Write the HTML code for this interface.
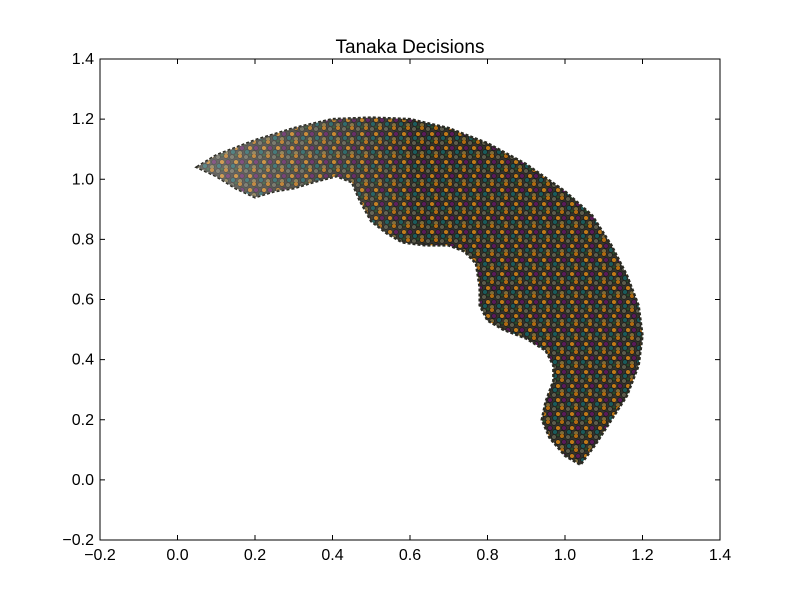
<!DOCTYPE html>
<html>
<head>
<meta charset="utf-8">
<style>
html,body{margin:0;padding:0;background:#fff;}
svg{display:block;font-family:"Liberation Sans",sans-serif;}
</style>
</head>
<body>
<svg id="chart" width="800" height="600">
  <defs>
    <pattern id="dots" width="14" height="14" patternUnits="userSpaceOnUse">
      <rect width="14" height="14" fill="#35342c"/>
      <circle cx="2" cy="2" r="2.4" fill="#b06a10" stroke="#1a1a1a" stroke-width="0.7"/>
      <circle cx="8" cy="3" r="2.4" fill="#5c5c4c" stroke="#1a1a1a" stroke-width="0.7"/>
      <circle cx="12" cy="8" r="2.4" fill="#c07a18" stroke="#1a1a1a" stroke-width="0.7"/>
      <circle cx="4" cy="8" r="2.4" fill="#5a1a5a" stroke="#1a1a1a" stroke-width="0.7"/>
      <circle cx="9" cy="12" r="2.4" fill="#1a5a5a" stroke="#1a1a1a" stroke-width="0.7"/>
      <circle cx="2" cy="13" r="2.4" fill="#7a6a3a" stroke="#1a1a1a" stroke-width="0.7"/>
      <circle cx="12" cy="1" r="2" fill="#2a4a2a" stroke="#1a1a1a" stroke-width="0.7"/>
    </pattern>
    <linearGradient id="fade" x1="0" x2="1" y1="0" y2="0">
      <stop offset="0" stop-color="#fff" stop-opacity="0.3"/>
      <stop offset="0.3" stop-color="#fff" stop-opacity="0.12"/>
      <stop offset="0.5" stop-color="#fff" stop-opacity="0"/>
    </linearGradient>
  </defs>
  <text x="410" y="53" text-anchor="middle" font-size="19">Tanaka Decisions</text>
  <g id="region"></g>
  <rect x="100" y="59" width="620" height="481" fill="none" stroke="#000" stroke-width="1"/>
  <g id="axes"></g>
</svg>
<script>
const outlineX = [0.05,0.1,0.2,0.3,0.4,0.5,0.6,0.7,0.8,0.9,1.0,1.07,1.12,1.16,1.19,1.2,1.19,1.16,1.12,1.08,1.04,
  1.0,0.96,0.94,0.95,0.97,0.97,0.95,0.9,0.84,0.8,0.78,0.78,0.77,0.74,0.7,0.64,0.58,0.54,0.5,0.47,0.45,0.41,0.35,0.3,0.25,0.2,0.15,0.1];
const outlineY = [1.04,1.08,1.13,1.17,1.2,1.205,1.2,1.17,1.12,1.05,0.96,0.88,0.78,0.68,0.58,0.48,0.38,0.28,0.2,0.12,0.05,
  0.08,0.14,0.2,0.26,0.33,0.38,0.43,0.47,0.5,0.53,0.58,0.64,0.72,0.76,0.78,0.78,0.79,0.82,0.86,0.93,0.99,1.01,0.99,0.97,0.96,0.94,0.97,1.01];
const xTicks = [-0.2,0.0,0.2,0.4,0.6,0.8,1.0,1.2,1.4];
const yTicks = [-0.2,0.0,0.2,0.4,0.6,0.8,1.0,1.2,1.4];
const xTickLabels = ["\u22120.2","0.0","0.2","0.4","0.6","0.8","1.0","1.2","1.4"];
const yTickLabels = ["\u22120.2","0.0","0.2","0.4","0.6","0.8","1.0","1.2","1.4"];

const L=100,R=720,T=59,B=540;
const sx=v=>L+(v+0.2)/1.6*(R-L);
const sy=v=>B-(v+0.2)/1.6*(B-T);
const NS="http://www.w3.org/2000/svg";
const region=document.getElementById('region');
const pts=outlineX.map((x,i)=>sx(x).toFixed(1)+","+sy(outlineY[i]).toFixed(1)).join(" ");
const poly=document.createElementNS(NS,'polygon');
poly.setAttribute('points',pts);
poly.setAttribute('fill','url(#dots)');
poly.setAttribute('stroke','#2a2a22');
poly.setAttribute('stroke-width','2.5');
poly.setAttribute('stroke-dasharray','3 2');


region.appendChild(poly);
const ov=document.createElementNS(NS,'polygon');
ov.setAttribute('points',pts);
ov.setAttribute('fill','url(#fade)');


region.appendChild(ov);

const axes=document.getElementById('axes');
function add(tag,attrs,name,text){
  const e=document.createElementNS(NS,tag);
  for(const k in attrs)e.setAttribute(k,attrs[k]);
  
  
  if(text!==undefined)e.textContent=text;
  axes.appendChild(e);
}
xTicks.forEach((v,i)=>{
  const x=sx(v);
  add('line',{x1:x,x2:x,y1:B,y2:B-5,stroke:'#000'},'x-tick');
  add('line',{x1:x,x2:x,y1:T,y2:T+5,stroke:'#000'},'x-tick-top');
  add('text',{x:x,y:B+20,'text-anchor':'middle','font-size':16},'x-tick-label',xTickLabels[i]);
});
yTicks.forEach((v,i)=>{
  const y=sy(v);
  add('line',{x1:L,x2:L+5,y1:y,y2:y,stroke:'#000'},'y-tick');
  add('line',{x1:R,x2:R-5,y1:y,y2:y,stroke:'#000'},'y-tick-right');
  add('text',{x:L-6,y:y+5,'text-anchor':'end','font-size':16},'y-tick-label',yTickLabels[i]);
});
</script>
</body>
</html>
